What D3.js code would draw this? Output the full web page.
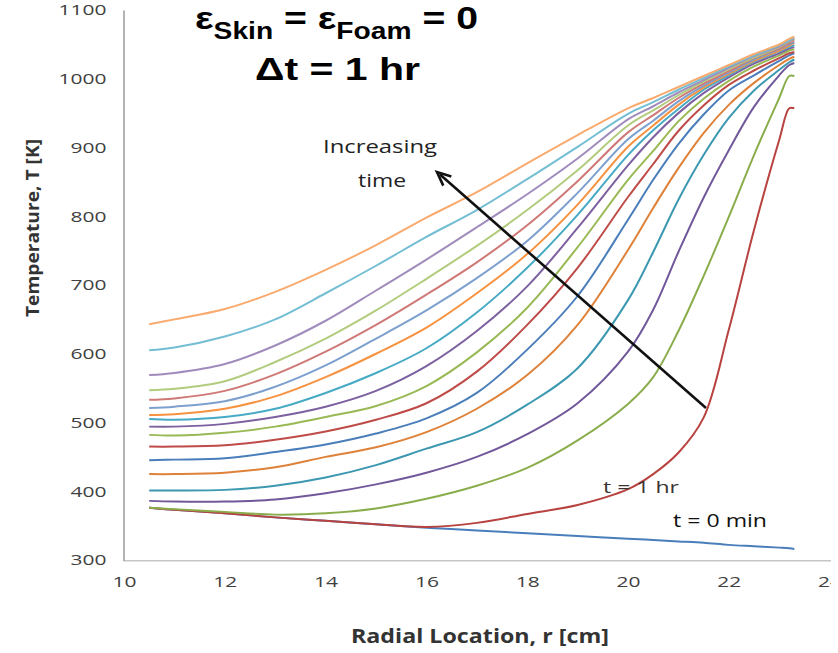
<!DOCTYPE html>
<html>
<head>
<meta charset="utf-8">
<script src="https://cdn.jsdelivr.net/npm/d3@7"></script>
<style>
  html, body { margin: 0; padding: 0; background: #fff; }
  svg { display: block; }
</style>
</head>
<body>
<svg id="chart" width="838" height="653"></svg>
<script>
// ---- data ----
const radius = [10.5, 11, 12, 13, 14, 15, 16, 17, 18, 19, 20, 20.5, 21, 21.5, 22, 22.5, 23, 23.2, 23.3];

const T_0h  = [376, 373, 368, 362, 357, 352, 347, 343, 339, 335, 331, 329, 327, 325, 322, 320, 318, 317, 316];
const T_1h  = [376, 373, 368, 362, 357, 352, 348, 354, 367, 380, 403, 425, 456, 507, 635, 780, 911, 957, 957];
const T_2h  = [376, 374, 370, 366, 368, 375, 389, 408, 434, 474, 527, 566, 633, 713, 799, 889, 972, 1004, 1004];
const T_3h  = [386, 385, 385, 388, 397, 410, 427, 450, 483, 528, 603, 664, 748, 827, 896, 959, 1005, 1020, 1023];
const T_4h  = [401, 401, 402, 408, 420, 438, 462, 486, 526, 579, 678, 748, 824, 889, 943, 983, 1013, 1024, 1028];
const T_5h  = [425, 425, 427, 435, 450, 464, 486, 520, 569, 642, 751, 812, 870, 921, 962, 994, 1020, 1029, 1032];
const T_6h  = [445, 446, 448, 457, 468, 484, 506, 543, 606, 684, 795, 853, 905, 948, 983, 1005, 1026, 1034, 1037];
const T_7h  = [465, 465, 467, 475, 487, 504, 528, 574, 642, 725, 828, 876, 924, 961, 991, 1012, 1030, 1037, 1039];
const T_8h  = [482, 481, 485, 494, 508, 524, 553, 602, 667, 755, 853, 895, 938, 971, 997, 1018, 1034, 1041, 1043];
const T_9h  = [494, 494, 498, 508, 523, 546, 582, 633, 698, 783, 874, 915, 950, 979, 1002, 1022, 1037, 1044, 1046];
const T_10h = [505, 504, 508, 520, 543, 572, 608, 660, 725, 802, 889, 925, 956, 984, 1005, 1025, 1040, 1046, 1049];
const T_11h = [511, 512, 520, 538, 566, 600, 638, 688, 745, 817, 901, 932, 962, 987, 1007, 1026, 1041, 1048, 1052];
const T_12h = [521, 523, 531, 552, 583, 622, 663, 710, 764, 834, 912, 939, 967, 990, 1009, 1028, 1043, 1050, 1053];
const T_13h = [533, 535, 546, 570, 603, 642, 686, 733, 787, 851, 922, 947, 972, 993, 1011, 1030, 1044, 1052, 1056];
const T_14h = [547, 549, 560, 588, 622, 663, 709, 757, 809, 867, 932, 954, 976, 996, 1014, 1031, 1046, 1054, 1058];
const T_15h = [569, 572, 585, 612, 648, 692, 737, 784, 832, 884, 941, 960, 980, 998, 1016, 1033, 1047, 1055, 1059];
const T_16h = [605, 609, 625, 650, 688, 728, 770, 809, 854, 901, 949, 966, 984, 1001, 1018, 1034, 1049, 1056, 1060];
const T_17h = [643, 650, 665, 690, 722, 758, 798, 835, 877, 918, 957, 972, 988, 1004, 1020, 1036, 1050, 1058, 1061];

const seriesColors = [
  "#4a7ebb", "#b8423f", "#8aad4c", "#71589a", "#3b98b0", "#de8139",
  "#4a7ebb", "#be4b48", "#98b954", "#7d60a0", "#46aac5", "#f69240",
  "#7da0ce", "#cf7977", "#b2cb7d", "#a08cbc", "#74bed3", "#f9ab6f"
];

const xTicks = [10, 12, 14, 16, 18, 20, 22, 24];
const yTicks = [300, 400, 500, 600, 700, 800, 900, 1000, 1100];

const xTitle = "Radial Location, r [cm]";
const yTitle = "Temperature, T [K]";

// ---- chart ----
const allSeries = [T_0h, T_1h, T_2h, T_3h, T_4h, T_5h, T_6h, T_7h, T_8h, T_9h,
                   T_10h, T_11h, T_12h, T_13h, T_14h, T_15h, T_16h, T_17h];

const svg = d3.select("#chart");
const x = d3.scaleLinear().domain([10, 24]).range([124, 829.6]);
const y = d3.scaleLinear().domain([300, 1100]).range([560, 10]);

const fontTick = "'Open Sans', 'DejaVu Sans', sans-serif";
const fontTitle = "'Liberation Sans', Arial, sans-serif";

svg.append("defs").append("clipPath").attr("id", "xlabClip")
  .append("rect").attr("x", 0).attr("y", 0).attr("width", 831).attr("height", 653);

// y axis
const yAxis = d3.axisLeft(y).tickValues(yTicks).tickSize(0).tickPadding(17)
  .tickFormat(d3.format("d"));
const gy = svg.append("g").attr("transform", "translate(123.5,0)").call(yAxis);
gy.select(".domain").attr("stroke", "#8c8c8c").attr("stroke-width", 1.3);
gy.selectAll("text")
  .attr("font-family", fontTick).attr("font-size", 15).attr("fill", "#404040")
  .attr("textLength", d => String(d).length * 12).attr("lengthAdjust", "spacingAndGlyphs");

// x axis
const xAxis = d3.axisBottom(x).tickValues(xTicks).tickSize(0).tickPadding(16)
  .tickFormat(d3.format("d"));
const gx = svg.append("g").attr("transform", "translate(0,560.5)").call(xAxis);
gx.select(".domain").attr("stroke", "#8c8c8c").attr("stroke-width", 1.3)
  .attr("d", "M" + (x(10) - 1) + ",0H860");
gx.selectAll("text")
  .attr("font-family", fontTick).attr("font-size", 15).attr("fill", "#404040")
  .attr("textLength", d => String(d).length * 12).attr("lengthAdjust", "spacingAndGlyphs");
gx.attr("clip-path", "url(#xlabClip)");

// lines
const line = d3.line()
  .x((d, i) => x(radius[i]))
  .y(d => y(d))
  .curve(d3.curveCatmullRom.alpha(0.5));

svg.append("g").selectAll("path")
  .data(allSeries)
  .join("path")
  .attr("d", d => line(d))
  .attr("fill", "none")
  .attr("stroke", (d, i) => seriesColors[i])
  .attr("stroke-width", 2)
  .attr("stroke-linejoin", "round");

// axis titles
svg.append("text")
  .attr("x", 480).attr("y", 643)
  .attr("text-anchor", "middle")
  .attr("font-family", fontTick).attr("font-weight", "bold").attr("font-size", 19)
  .attr("fill", "#333")
  .attr("textLength", 258).attr("lengthAdjust", "spacingAndGlyphs")
  .text(xTitle);

svg.append("text")
  .attr("transform", "translate(39,228) rotate(-90)")
  .attr("text-anchor", "middle")
  .attr("font-family", fontTick).attr("font-weight", "bold").attr("font-size", 17)
  .attr("fill", "#333")
  .attr("textLength", 178).attr("lengthAdjust", "spacingAndGlyphs")
  .text(yTitle);

// title
const title1 = svg.append("text")
  .attr("x", 195).attr("y", 29)
  .attr("font-family", fontTitle).attr("font-weight", "bold").attr("fill", "#000")
  .attr("textLength", 283).attr("lengthAdjust", "spacingAndGlyphs");
title1.append("tspan").attr("font-size", 32).text("ε");
title1.append("tspan").attr("font-size", 23).attr("dy", 10).text("Skin");
title1.append("tspan").attr("font-size", 32).attr("dy", -10).text(" = ε");
title1.append("tspan").attr("font-size", 23).attr("dy", 10).text("Foam");
title1.append("tspan").attr("font-size", 32).attr("dy", -10).text(" = 0");

svg.append("text")
  .attr("x", 255).attr("y", 80)
  .attr("font-family", fontTitle).attr("font-weight", "bold").attr("font-size", 31).attr("fill", "#000")
  .attr("textLength", 165).attr("lengthAdjust", "spacingAndGlyphs")
  .text("Δt = 1 hr");

// annotations
svg.append("text")
  .attr("x", 380).attr("y", 153).attr("text-anchor", "middle")
  .attr("font-family", fontTick).attr("font-size", 19).attr("fill", "#222")
  .attr("textLength", 114).attr("lengthAdjust", "spacingAndGlyphs")
  .text("Increasing");
svg.append("text")
  .attr("x", 382).attr("y", 187).attr("text-anchor", "middle")
  .attr("font-family", fontTick).attr("font-size", 19).attr("fill", "#222")
  .attr("textLength", 48).attr("lengthAdjust", "spacingAndGlyphs")
  .text("time");

// arrow
const ax0 = 706, ay0 = 408, ax1 = 437, ay1 = 172;
svg.append("line")
  .attr("x1", ax0).attr("y1", ay0).attr("x2", ax1 + 3).attr("y2", ay1 + 2.6)
  .attr("stroke", "#111").attr("stroke-width", 2.6);
const ang = Math.atan2(ay0 - ay1, ax0 - ax1);
const hl = 15, hw = 0.42;
svg.append("path")
  .attr("d", `M${ax1 + hl * Math.cos(ang - hw)},${ay1 + hl * Math.sin(ang - hw)} L${ax1},${ay1} L${ax1 + hl * Math.cos(ang + hw)},${ay1 + hl * Math.sin(ang + hw)}`)
  .attr("fill", "none").attr("stroke", "#111").attr("stroke-width", 2.6)
  .attr("stroke-linejoin", "miter");

svg.append("text")
  .attr("x", 603).attr("y", 493)
  .attr("font-family", fontTick).attr("font-size", 17).attr("fill", "#3a3430")
  .attr("textLength", 76).attr("lengthAdjust", "spacingAndGlyphs")
  .text("t = 1 hr");
svg.append("text")
  .attr("x", 673).attr("y", 527)
  .attr("font-family", fontTick).attr("font-size", 18).attr("fill", "#111")
  .attr("textLength", 94).attr("lengthAdjust", "spacingAndGlyphs")
  .text("t = 0 min");
</script>
</body>
</html>
